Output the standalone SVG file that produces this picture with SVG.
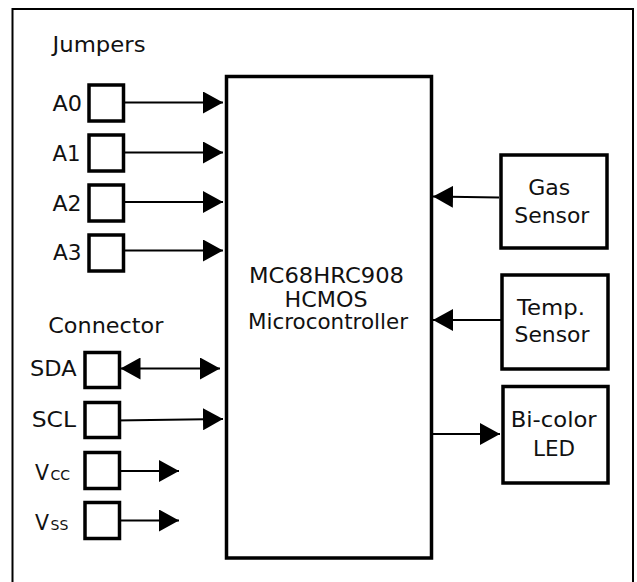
<svg xmlns="http://www.w3.org/2000/svg" width="637" height="582" viewBox="0 0 637 582">
<style>
text{font-family:"DejaVu Sans","Verdana","Liberation Sans",sans-serif;font-size:20.5px;fill:#111}
.box{fill:#fff;stroke:#000;stroke-width:3.5}
.pin{fill:#fff;stroke:#000;stroke-width:3.5}
.frame{fill:none;stroke:#000;stroke-width:2}
.wire{fill:none;stroke:#000;stroke-width:1.8}
.arr{marker-end:url(#ah)}
.bi{marker-start:url(#ah);marker-end:url(#ah)}
.sub{font-size:14px}
</style>
<defs>
<marker id="ah" markerUnits="userSpaceOnUse" markerWidth="20" markerHeight="22" refX="20" refY="11" orient="auto-start-reverse" viewBox="0 0 20 22">
<path d="M0,0 L20,11 L0,22 z" fill="#000"/>
</marker>
</defs>
<rect width="637" height="582" fill="#fff"/>
<path class="frame" d="M12.5 600 V9 H633 V600"/>

<g id="connectors">
<path class="wire arr" d="M125 102.5 H223"/>
<path class="wire arr" d="M122 152.5 H223"/>
<path class="wire arr" d="M125 202 H223"/>
<path class="wire arr" d="M119 250.5 H223"/>
<path class="wire bi" d="M120.5 368.5 H220"/>
<path class="wire arr" d="M115 420.5 L223 419"/>
<path class="wire arr" d="M121 471 H179"/>
<path class="wire arr" d="M121 520.5 H179"/>
<path class="wire arr" d="M499 197.5 L433 196.5"/>
<path class="wire arr" d="M502 320 H433"/>
<path class="wire arr" d="M433 434 H500"/>
</g>

<g id="mcu">
<rect class="box" x="226.5" y="76.5" width="205" height="481.5"/>
<text x="326.5" y="282.7" text-anchor="middle" textLength="155" lengthAdjust="spacingAndGlyphs">MC68HRC908</text>
<text x="326" y="306.5" text-anchor="middle" textLength="83" lengthAdjust="spacingAndGlyphs">HCMOS</text>
<text x="328" y="329.3" text-anchor="middle" textLength="160" lengthAdjust="spacingAndGlyphs">Microcontroller</text>
</g>

<g id="jumpers-label"><text x="52.5" y="52" textLength="93" lengthAdjust="spacingAndGlyphs">Jumpers</text></g>
<g id="jumper-a0"><rect class="pin" x="89" y="85" width="34.5" height="36"/><text x="52.5" y="110.5" textLength="29.5" lengthAdjust="spacingAndGlyphs">A0</text></g>
<g id="jumper-a1"><rect class="pin" x="89" y="135" width="34.5" height="36"/><text x="52.5" y="160.5" textLength="28" lengthAdjust="spacingAndGlyphs">A1</text></g>
<g id="jumper-a2"><rect class="pin" x="89" y="185" width="34.5" height="36"/><text x="52.5" y="210.5" textLength="29" lengthAdjust="spacingAndGlyphs">A2</text></g>
<g id="jumper-a3"><rect class="pin" x="89" y="235" width="34.5" height="36"/><text x="53" y="260" textLength="28.5" lengthAdjust="spacingAndGlyphs">A3</text></g>

<g id="connector-label"><text x="48.3" y="333" textLength="115" lengthAdjust="spacingAndGlyphs">Connector</text></g>
<g id="pin-sda"><rect class="pin" x="85" y="352.5" width="34.5" height="35"/><text x="30" y="376" textLength="46.5" lengthAdjust="spacingAndGlyphs">SDA</text></g>
<g id="pin-scl"><rect class="pin" x="85" y="402.5" width="34.5" height="35"/><text x="31.7" y="427" textLength="44.3" lengthAdjust="spacingAndGlyphs">SCL</text></g>
<g id="pin-vcc"><rect class="pin" x="85" y="452.5" width="34.5" height="36"/><text x="35" y="479.5">V<tspan class="sub" dx="1.5">CC</tspan></text></g>
<g id="pin-vss"><rect class="pin" x="85" y="502.5" width="34.5" height="36"/><text x="35" y="529.5">V<tspan class="sub" dx="1.5">SS</tspan></text></g>

<g id="gas-sensor">
<rect class="box" x="501" y="155" width="106" height="93"/>
<text x="549.2" y="195" text-anchor="middle" textLength="42" lengthAdjust="spacingAndGlyphs">Gas</text>
<text x="551.8" y="222.5" text-anchor="middle" textLength="75" lengthAdjust="spacingAndGlyphs">Sensor</text>
</g>
<g id="temp-sensor">
<rect class="box" x="502" y="275" width="106" height="94"/>
<text x="551" y="315" text-anchor="middle" textLength="68" lengthAdjust="spacingAndGlyphs">Temp.</text>
<text x="552" y="341.7" text-anchor="middle" textLength="75" lengthAdjust="spacingAndGlyphs">Sensor</text>
</g>
<g id="led">
<rect class="box" x="503" y="386.5" width="105" height="96.5"/>
<text x="553.7" y="427.3" text-anchor="middle" textLength="86" lengthAdjust="spacingAndGlyphs">Bi-color</text>
<text x="554" y="455.7" text-anchor="middle" textLength="42" lengthAdjust="spacingAndGlyphs">LED</text>
</g>
</svg>
